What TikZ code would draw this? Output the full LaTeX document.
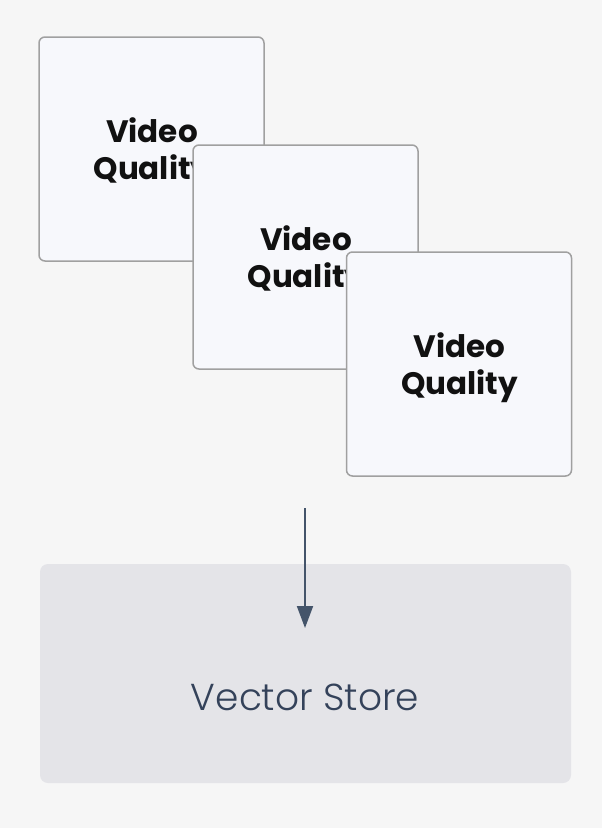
\documentclass[tikz,border=0pt]{standalone}
\usepackage{fontspec}
\setmainfont{Poppins}
\newfontfamily\lightfont{Poppins Light}
\usetikzlibrary{arrows.meta}
\definecolor{bgc}{HTML}{F6F6F6}
\definecolor{cardfill}{HTML}{F7F8FC}
\definecolor{cardline}{HTML}{A0A0A0}
\definecolor{storefill}{HTML}{E4E4E8}
\definecolor{arrowc}{HTML}{44546A}
\definecolor{storetext}{HTML}{34425A}
\definecolor{cardtext}{HTML}{111111}
\begin{document}
\begin{tikzpicture}[x=1pt,y=-1pt,
  card/.style={draw=cardline, line width=1.5pt, fill=cardfill, rounded corners=6pt,
    minimum width=225pt, minimum height=224pt, inner sep=0pt},
  cardlabel/.style={inner sep=0pt, text=cardtext, align=center,
    font=\fontsize{31}{37}\selectfont\bfseries},
  store/.style={fill=storefill, rounded corners=8pt, minimum width=531pt, minimum height=219pt,
    inner sep=0pt},
  storelabel/.style={inner sep=0pt, text=storetext, font=\lightfont\fontsize{37.5}{42}\selectfont},
  flow/.style={draw=arrowc, line width=2pt, -{Triangle[length=22pt,width=16pt]}}]
\fill[bgc] (0,0) rectangle (602,828);
\useasboundingbox (0,0) rectangle (602,828);
\node[store] (vs) at (305.5,673.5) {};
\node[storelabel] (vslabel) at (305,697) {Vector Store};
\node[card] (q1) at (151.5,149) {};
\node[cardlabel] (l1) at (152,153) {Video\\Quality};
\node[card] (q2) at (305.5,257) {};
\node[cardlabel] (l2) at (306,261) {Video\\Quality};
\node[card] (q3) at (459,364) {};
\node[cardlabel] (l3) at (459.5,368) {Video\\Quality};
\coordinate (as) at (305,508);
\coordinate (ae) at (305,628);
\draw[flow] (as) -- (ae);
\end{tikzpicture}
\end{document}
